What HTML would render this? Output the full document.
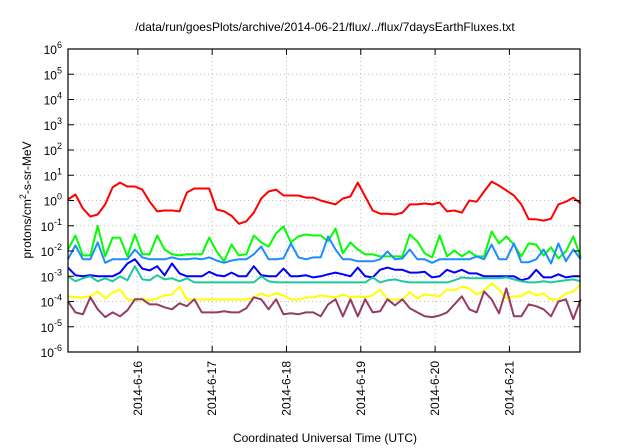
<!DOCTYPE html>
<html><head><meta charset="utf-8"><style>
html,body{margin:0;padding:0;background:#fff;}
svg{display:block;font-family:"Liberation Sans",sans-serif;}
</style></head><body>
<svg id="chart" width="640" height="448" viewBox="0 0 640 448" xmlns="http://www.w3.org/2000/svg">
<rect width="640" height="448" fill="#fff"/>
<text x="325" y="31" font-size="12" text-anchor="middle" fill="#000">/data/run/goesPlots/archive/2014-06-21/flux/../flux/7daysEarthFluxes.txt</text>
<text x="325" y="442" font-size="12" text-anchor="middle" fill="#000">Coordinated Universal Time (UTC)</text>
<text transform="translate(31,200) rotate(-90)" font-size="12" text-anchor="middle" fill="#000">protons/cm<tspan dy="-5" font-size="9">2</tspan><tspan dy="5">-s-sr-MeV</tspan></text>
<g id="grid"></g><g id="series"></g><g id="axes"></g>
</svg>
<script>
const times=[15.06,15.16,15.26,15.36,15.46,15.56,15.66,15.76,15.86,15.96,16.06,16.16,16.26,16.36,16.46,16.56,16.66,16.76,16.86,16.96,17.06,17.16,17.26,17.36,17.46,17.56,17.66,17.76,17.86,17.96,18.06,18.16,18.26,18.36,18.46,18.56,18.66,18.76,18.86,18.96,19.06,19.16,19.26,19.36,19.46,19.56,19.66,19.76,19.86,19.96,20.06,20.16,20.26,20.36,20.46,20.56,20.66,20.76,20.86,20.96,21.06,21.16,21.26,21.36,21.46,21.56,21.66,21.76,21.86,21.96];
const redValues=[1.1,1.73,0.48,0.23,0.28,0.7,3.3,5.1,3.6,3.6,2.7,0.9,0.37,0.4,0.4,0.37,2.07,3.0,3.0,3.0,0.44,0.37,0.25,0.12,0.15,0.33,1.2,2.27,2.7,1.58,1.58,1.58,1.3,1.3,1.0,0.83,0.7,1.2,1.44,5.1,1.44,0.4,0.3,0.3,0.28,0.33,0.7,0.7,0.76,0.7,0.83,0.37,0.4,0.33,1.0,0.9,2.27,5.6,3.9,2.5,1.58,0.7,0.18,0.18,0.16,0.19,0.7,0.9,1.3,0.76];
const greenValues=[1.15e-2,4.1e-2,6.7e-3,6.7e-3,0.10,6.1e-3,3.4e-2,3.4e-2,6.1e-3,4.5e-2,7.4e-3,7.4e-3,4.1e-2,1.15e-2,7.4e-3,6.7e-3,7.4e-3,7.4e-3,7.4e-3,3.4e-2,9.6e-3,3.9e-3,1.8e-2,6.7e-3,7.4e-3,4.1e-2,2.2e-2,1.5e-2,5e-2,9.4e-2,2.2e-2,3.8e-2,4.5e-2,4.1e-2,4.1e-2,2.4e-2,7.8e-2,8.1e-3,2.2e-2,1.15e-2,7.4e-3,7.4e-3,6.1e-3,6.1e-3,6.1e-3,6.1e-3,4.5e-2,2.4e-2,8.1e-3,5.6e-3,4.1e-2,6.1e-3,1.05e-2,6.1e-3,9.6e-3,6.1e-3,6.1e-3,5.9e-2,2e-2,3.8e-2,1.8e-2,6.1e-3,2e-2,1.8e-2,6.7e-3,1.4e-2,5.1e-3,9.6e-3,3.8e-2,5.6e-3];
const skyValues=[4.7e-3,1.67e-2,4.7e-3,4.7e-3,2.2e-2,3.4e-3,4.7e-3,4.7e-3,4.7e-3,1.15e-2,5.6e-3,4.7e-3,4.7e-3,4.7e-3,5.6e-3,4.7e-3,4.7e-3,5.1e-3,4.7e-3,5.6e-3,4.2e-3,3.4e-3,4.2e-3,4.7e-3,4.7e-3,7.4e-3,1.5e-2,4.7e-3,4.7e-3,5.1e-3,2e-2,5.6e-3,4.7e-3,5.6e-3,5.6e-3,3.8e-2,1.15e-2,4.7e-3,4.7e-3,3.9e-3,3.9e-3,3.9e-3,4.7e-3,9.6e-3,4.7e-3,5.1e-3,1.15e-2,4.7e-3,4.7e-3,3.4e-3,4.7e-3,4.7e-3,4.7e-3,4.7e-3,4.7e-3,6.1e-3,4.7e-3,1.8e-2,4.7e-3,4.7e-3,2e-2,3.6e-3,3.6e-3,4.7e-3,1.15e-2,3.2e-3,2e-2,3.9e-3,1.15e-2,4.7e-3];
const blueValues=[2.2e-3,1.1e-3,1.0e-3,1.1e-3,1.0e-3,1.0e-3,1.0e-3,1.4e-3,3.2e-3,4.7e-3,2e-3,1.7e-3,2.5e-3,1.1e-3,3.2e-3,1.3e-3,1.0e-3,1.0e-3,1.0e-3,1.5e-3,1.1e-3,1.0e-3,1.4e-3,1.0e-3,1.0e-3,2.5e-3,1.1e-3,1.0e-3,1.0e-3,2e-3,1.0e-3,1.0e-3,1.1e-3,9e-4,1.0e-3,1.2e-3,1.4e-3,1.2e-3,1.0e-3,2.2e-3,1.0e-3,9e-4,1.8e-3,2.2e-3,1.8e-3,1.8e-3,1.4e-3,1.4e-3,1.5e-3,9e-4,1.0e-3,1.8e-3,1.4e-3,1.8e-3,1.3e-3,1.3e-3,1.0e-3,1.0e-3,1.0e-3,1.0e-3,1.0e-3,7e-4,8.3e-4,1.8e-3,9e-4,9e-4,1.2e-3,9e-4,1.0e-3,1.0e-3];
const tealValues=[1e-3,6.3e-4,8.3e-4,1e-3,6.3e-4,8.3e-4,6.3e-4,1e-3,6.9e-4,2.5e-3,7.5e-4,6.9e-4,1.1e-3,7.5e-4,8.3e-4,6.3e-4,8.3e-4,5.7e-4,5.7e-4,5.7e-4,5.7e-4,5.7e-4,5.7e-4,5.7e-4,5.7e-4,5.7e-4,1e-3,6.3e-4,5.7e-4,5.7e-4,5.7e-4,5.7e-4,5.7e-4,5.7e-4,5.7e-4,5.7e-4,5.7e-4,5.7e-4,5.7e-4,5.7e-4,5.7e-4,9e-4,5.7e-4,6.9e-4,7.5e-4,6.3e-4,5.7e-4,5.7e-4,5.7e-4,5.7e-4,5.7e-4,5.7e-4,6.9e-4,9e-4,8.3e-4,8.3e-4,8.3e-4,8.3e-4,8.3e-4,9e-4,7.5e-4,6.3e-4,5.7e-4,5.7e-4,6.3e-4,5.7e-4,6.3e-4,6.9e-4,7.5e-4,6.3e-4];
const yellowValues=[1.6e-4,1.45e-4,1.45e-4,1.6e-4,2.5e-4,1.33e-4,2.3e-4,3e-4,1.2e-4,1.1e-4,1.33e-4,1.1e-4,1.33e-4,1.75e-4,1.9e-4,3.9e-4,1.2e-4,1.2e-4,1.2e-4,1.2e-4,1.2e-4,1.2e-4,1.2e-4,1.2e-4,1.2e-4,1.45e-4,2.1e-4,1.6e-4,2.1e-4,1.75e-4,1.2e-4,1.2e-4,1.45e-4,1.45e-4,1.75e-4,1.6e-4,1.45e-4,1.9e-4,1.45e-4,1.6e-4,1.45e-4,1.75e-4,3e-4,1.2e-4,1.2e-4,1.2e-4,2.3e-4,1.33e-4,1.9e-4,1.75e-4,1.6e-4,3e-4,2.75e-4,3.9e-4,3.3e-4,1.9e-4,2.75e-4,5.2e-4,3e-4,1.33e-4,1.6e-4,1.6e-4,2.5e-4,1.75e-4,2.1e-4,1.2e-4,1.2e-4,2.1e-4,2.5e-4,4.8e-4];
const purpleValues=[1.0e-4,3.7e-5,3.1e-5,1.47e-4,4.9e-5,2.4e-5,3.7e-5,2.6e-5,4.5e-5,1.22e-4,1.22e-4,7.7e-5,7.7e-5,5.9e-5,4.9e-5,8.5e-5,6.5e-5,1.22e-4,3.7e-5,3.7e-5,3.7e-5,4.1e-5,3.7e-5,3.7e-5,5.4e-5,1.47e-4,1.22e-4,4.9e-5,1.22e-4,3.1e-5,3.4e-5,3.1e-5,3.7e-5,3.7e-5,2.6e-5,7.7e-5,1.22e-4,2.6e-5,1.22e-4,2.6e-5,1.22e-4,3.7e-5,4.1e-5,1.22e-4,7e-5,1.22e-4,5.4e-5,3.7e-5,2.6e-5,2.4e-5,2.8e-5,3.7e-5,7.7e-5,1.6e-4,4.9e-5,3.7e-5,2.5e-4,1.22e-4,3.4e-5,3.3e-4,2.6e-5,2.6e-5,7.7e-5,6.5e-5,4.9e-5,2.6e-5,1.0e-4,1.22e-4,2.0e-5,1.22e-4];
const dayTicks=[16,17,18,19,20,21];
const dayLabels=["2014-6-16","2014-6-17","2014-6-18","2014-6-19","2014-6-20","2014-6-21"];
const yExps=[-6,-5,-4,-3,-2,-1,0,1,2,3,4,5,6];

const L=68,R=580,T=49,B=352,T0=15.06,T1=21.95;
const NS="http://www.w3.org/2000/svg";
function xS(t){return L+(t-T0)/(T1-T0)*(R-L);}
function yS(v){return B-(Math.log10(v)+6)/12*(B-T);}
function mk(tag,attrs,parent){const e=document.createElementNS(NS,tag);for(const k in attrs)e.setAttribute(k,attrs[k]);parent.appendChild(e);return e;}
const grid=document.getElementById('grid'),axes=document.getElementById('axes'),ser=document.getElementById('series');
yExps.forEach(function(p){
  const y=yS(Math.pow(10,p));
  if(p>-6&&p<6){const g=mk('line',{x1:L,x2:R,y1:y,y2:y,stroke:'#aaa','stroke-width':0.8,'stroke-dasharray':'1,3'},grid);
  
  }
  const t1=mk('line',{x1:L,x2:L+6,y1:y,y2:y,stroke:'#000'},axes);
  
  
  const t2=mk('line',{x1:R-6,x2:R,y1:y,y2:y,stroke:'#000'},axes);
  
  
  const tx=mk('text',{x:L-6,y:y+5,'font-size':12,'text-anchor':'end',fill:'#000'},axes);
  
  
  tx.textContent='10';
  const ts=mk('tspan',{dy:-6,'font-size':9},tx);ts.textContent=String(p);
});
dayTicks.forEach(function(d,i){
  const x=xS(d);
  const g=mk('line',{x1:x,x2:x,y1:T,y2:B,stroke:'#aaa','stroke-width':0.8,'stroke-dasharray':'1,3'},grid);
  
  
  const t1=mk('line',{x1:x,x2:x,y1:B-6,y2:B,stroke:'#000'},axes);
  
  
  const t2=mk('line',{x1:x,x2:x,y1:T,y2:T+6,stroke:'#000'},axes);
  
  
  const tx=mk('text',{transform:'translate('+(x+4)+','+(B+9)+') rotate(-90)','font-size':12,'text-anchor':'end',fill:'#000'},axes);
  
  
  tx.textContent=dayLabels[i];
});
const fr=mk('rect',{x:L,y:T,width:R-L,height:B-T,fill:'none',stroke:'#000','stroke-width':1.2},axes);


const seriesList=[[redValues,'#ff0000','series-red'],[greenValues,'#00ff00','series-green'],[skyValues,'#1e8cff','series-light-blue'],[blueValues,'#0000ff','series-blue'],[tealValues,'#20c8a0','series-teal'],[yellowValues,'#ffff00','series-yellow'],[purpleValues,'#943c64','series-purple']];
seriesList.forEach(function(s){
  const pts=s[0].map(function(v,i){return xS(times[i]).toFixed(1)+','+yS(v).toFixed(1);}).join(' ');
  const pl=mk('polyline',{points:pts,fill:'none',stroke:s[1],'stroke-width':2,'stroke-linejoin':'round'},ser);
  
  
});
</script>
</body></html>
